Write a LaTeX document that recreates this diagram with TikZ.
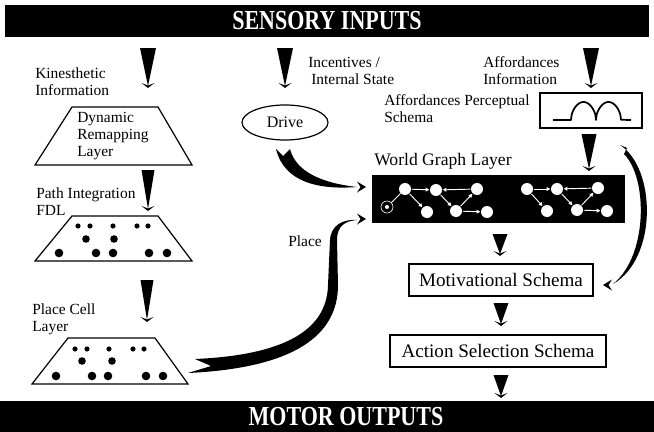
\documentclass[tikz,border=0pt]{standalone}
\usepackage{fontspec}
\usepackage{graphicx}
\setmainfont{Liberation Serif}
\usetikzlibrary{arrows.meta,shapes.geometric,calc}
\newcommand\dnwedge[4]{%
  \fill ({#1-#4},#2) -- ({#1+#4},#2) -- (#1,{#3-2}) -- cycle;
  \fill ({#1-6.5},{#3-5}) -- (#1,#3) -- ({#1+6.5},{#3-5}) -- (#1,{#3-2.5}) -- cycle;
}
\newcommand\rtchev[2]{%
  \fill ({#1-9},{#2-5.5}) -- (#1,#2) -- ({#1-9},{#2+5.5}) -- ({#1-5.5},#2) -- cycle;
}
\tikzset{
  lbl/.style={font=\fontsize{11.6}{12.75}\selectfont, align=left, inner sep=0pt, anchor=west},
  bartext/.style={text=white, font=\fontsize{16.5}{18}\selectfont\bfseries, inner sep=0pt},
  gnode/.style={circle, fill=white, minimum size=9pt, inner sep=0pt},
  gedge/.style={white, line width=0.7pt, -{Triangle[length=2.8pt,width=2.8pt]}, shorten >=0.3pt, shorten <=0.3pt},
  gline/.style={white, line width=0.7pt},
  boxnode/.style={draw, line width=0.9pt, font=\fontsize{14.3}{16}\selectfont, inner sep=0pt},
  trap/.style={draw, line width=0.9pt},
}
\begin{document}
\begin{tikzpicture}[x=0.75pt,y=-0.75pt]
\useasboundingbox (0,0) rectangle (654,432);
% bars
\fill (5,5) rectangle (649,37);
\node[bartext] (sens) at (327,21) {\scalebox{1}[1.25]{SENSORY INPUTS}};
\fill (0,401) rectangle (654,432);
\node[bartext] (mot) at (346,417) {\scalebox{1}[1.25]{MOTOR OUTPUTS}};

% left column
\node[lbl] (kin) at (35,82) {Kinesthetic\\Information};
\dnwedge{148}{48}{88}{8}
\draw[trap] (72,107) -- (158,107) -- (192,165) -- (35,165) -- cycle;
\node[lbl] (dyn) at (77,136) {Dynamic\\Remapping\\Layer};
\dnwedge{148}{170}{211}{6.5}
\node[lbl] (pif) at (36,202) {Path Integration\\FDL};
\draw[trap] (72,216) -- (158,216) -- (192,261) -- (35,261) -- cycle;
\foreach \x in {78,90,113,137,148} \fill (\x,226) circle (2.6);
\foreach \x in {86,114} \fill (\x,239) circle (3.8);
\foreach \x in {59,96,113,149,167} \fill (\x,253) circle (4.3);
\dnwedge{147}{280}{322}{6.5}
\node[lbl] (pcl) at (32,319) {Place Cell\\Layer};
\draw[trap] (68,338) -- (155,338) -- (188,384) -- (32,384) -- cycle;
\foreach \x in {75,87,109,133,144} \fill (\x,349) circle (2.6);
\foreach \x in {82,112} \fill (\x,361) circle (3.8);
\foreach \x in {56,92,108,146,163} \fill (\x,376) circle (4.3);

% middle column
\dnwedge{285}{48}{88}{8}
\node[lbl] (inc) at (308,71) {Incentives /\\\hspace{2.25pt}Internal State};
\node[draw, ellipse, line width=0.9pt, minimum width=64.5pt, minimum height=26.25pt, inner sep=0pt,
      font=\fontsize{12}{14}\selectfont] (drive) at (285,122.5) {Drive};

% right column
\node[lbl] (affi) at (483,71) {Affordances\\Information};
\dnwedge{591}{48}{88}{8}
\node[lbl] (afps) at (384,109) {Affordances Perceptual\\Schema};
\node[draw, line width=1.3pt, minimum width=77pt, minimum height=26pt, inner sep=0pt] (aff) at (591,110.5) {};
\draw[line width=1.3pt, line join=round] (553,120) -- (571,120)
  -- plot[domain=571.001:620.999, samples=81] (\x, {120 - 18*sqrt(abs(sin(180*(\x-571)/25)))}) -- (631,120);
\dnwedge{589}{134}{171}{7.5}

% world graph layer
\node[anchor=west, inner sep=0pt, font=\fontsize{13.2}{15}\selectfont] (wgl) at (374,161) {World Graph Layer};
\node[fill=black, minimum width=189.75pt, minimum height=36pt, inner sep=0pt] (wg) at (498.5,199) {};
\node[circle, draw=white, line width=0.5pt, minimum size=9pt, inner sep=0pt] (r1) at (387,207) {};
\fill[white] (r1) circle (2);
\foreach \n/\x/\y in {a1/405/189, b1/436/190, c1/477/189, d1/427/212, e1/456/211, f1/487/212,
                      a2/527/189, b2/557/189, c2/598/188, d2/547/211, e2/577/210, f2/607/211}
  \node[gnode] (\n) at (\x,\y) {};
\draw[gline] (r1) -- (a1);
\foreach \i in {1,2} {
  \draw[gedge] (a\i) -- (b\i);
  \draw[gedge] (c\i) -- (b\i);
  \draw[gedge] (a\i) -- (d\i);
  \draw[gedge] (b\i) -- (e\i);
  \draw[gedge] (e\i) -- (c\i);
  \draw[gedge] (e\i) -- (f\i);
}

% lower right boxes
\dnwedge{500}{234}{256}{7.5}
\node[boxnode, minimum width=138pt, minimum height=24pt] (motiv) at (501,280) {Motivational Schema};
\dnwedge{501}{303}{326}{7.5}
\node[boxnode, minimum width=162pt, minimum height=24pt] (act) at (498,351) {Action Selection Schema};
\dnwedge{501}{375}{398}{7.5}

% Drive -> world graph curved arrow
\fill (276,149) .. controls (284,182) and (318,190) .. (357,187)
   .. controls (322,183) and (296,172) .. (290,149) -- (283,156) -- cycle;
\rtchev{366}{187}

% Place cell -> world graph curved arrow
\fill (188,373) .. controls (295,368) and (338,335) .. (338,285) -- (337,240)
   .. controls (337,226) and (345,221) .. (357,220)
   .. controls (343,219) and (331,225) .. (330,240) -- (328,285)
   .. controls (327,330) and (285,355) .. (195,359) -- (211,366) -- cycle;
\rtchev{366}{219}
\node[lbl] (plc) at (288,241) {Place};

% affordances -> motivational curved arrow
\fill (620,145) .. controls (656,168) and (658,258) .. (613,284)
   .. controls (648,256) and (648,178) .. (624,154) -- (627,148) -- cycle;
\fill (612,279.5) -- (603,285) -- (612,290.5) -- (608.5,285) -- cycle;
\end{tikzpicture}
\end{document}
